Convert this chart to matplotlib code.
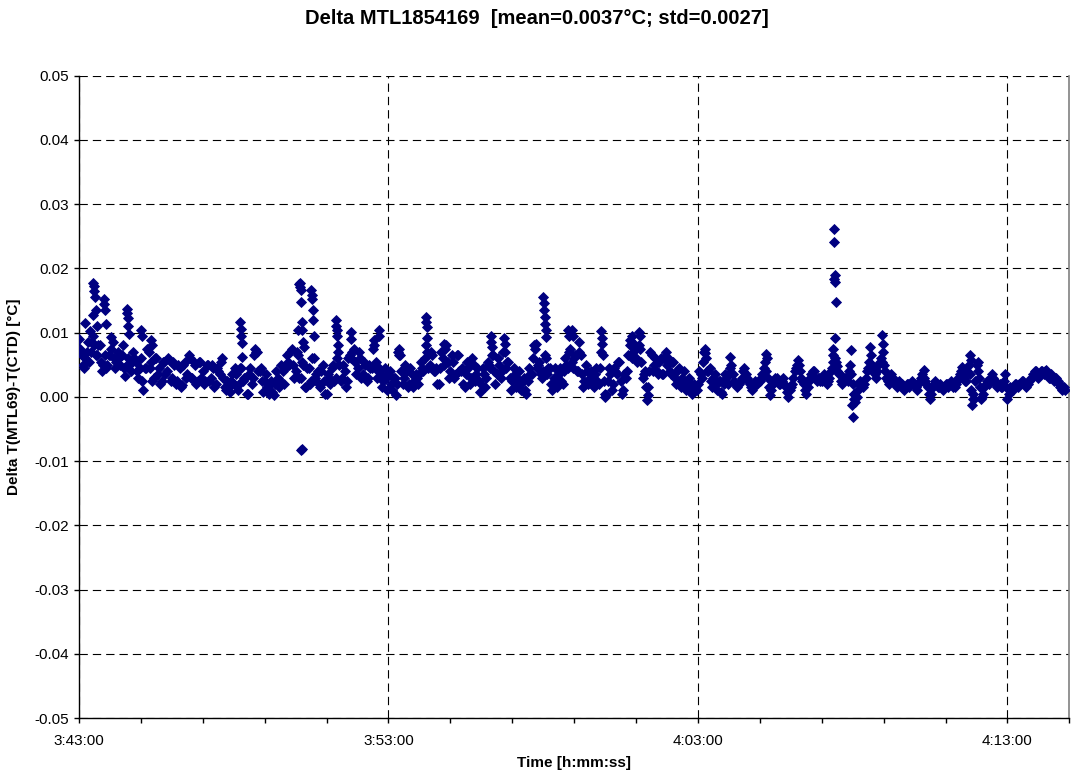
import numpy as np
import matplotlib
matplotlib.use("Agg")
from matplotlib import pyplot as plt
from matplotlib.ticker import MultipleLocator, FuncFormatter

plt.rcParams['font.family'] = ['Liberation Sans', 'DejaVu Sans']

# start of record 3:43:00; readings every 2.5 s, split in two interleaved rows
start = 3 * 3600 + 43 * 60
step = 5

# delta T in mK at 0, 5, 10 ... s (one row per minute)
base_mk = [
    9.0, 6.5, 4.5, 7.0, 5.5, 8.5, 8.0, 6.5, 8.0, 4.0, 6.5, 5.0,
    6.5, 8.5, 4.5, 7.0, 5.0, 8.0, 3.2, 6.0, 4.0, 7.0, 5.5, 3.0,
    6.0, 1.0, 4.5, 7.0, 5.5, 3.0, 6.0, 4.5, 2.5, 5.5, 4.0, 5.8,
    3.0, 5.0, 2.5, 4.5, 1.8, 5.5, 3.5, 6.0, 3.0, 5.0, 2.5, 5.5,
    4.0, 2.5, 5.0, 3.0, 4.5, 2.0, 4.0, 5.5, 3.0, 1.0, 1.5, 2.5,
    2.0, 3.5, 2.0, 4.5, 3.0, 0.5, 3.5, 2.0, 6.5, 7.0, 4.0, 2.5,
    2.5, 1.5, 2.0, 0.7, 2.0, 3.0, 2.5, 4.0, 4.5, 5.5, 7.0, 5.0,
    4.0, 6.5, 3.0, 5.0, 1.5, 4.5, 2.5, 6.0, 3.5, 2.0, 4.0, 2.5,
    0.5, 3.0, 4.5, 2.5, 6.0, 5.0, 3.0, 4.0, 2.5, 6.5, 7.0, 5.5,
    4.5, 6.0, 3.5, 5.0, 3.0, 4.5, 7.5, 5.5, 4.0, 3.5, 2.5, 3.0,
    3.5, 2.0, 3.0, 0.3, 6.5, 4.0, 3.0, 4.0, 2.0, 3.5, 2.5, 3.0,
    3.5, 4.5, 6.0, 7.0, 5.0, 6.5, 4.0, 2.0, 4.5, 6.0, 7.5, 5.5,
    4.0, 5.5, 3.5, 6.5, 4.0, 2.0, 3.5, 4.5, 3.0, 5.0, 3.5, 2.5,
    2.0, 3.5, 3.0, 5.0, 6.5, 4.0, 3.5, 5.0, 4.0, 7.0, 5.5, 3.0,
    2.5, 3.5, 3.0, 2.0, 2.5, 1.0, 2.5, 3.5, 6.0, 7.5, 5.0, 3.5,
    4.0, 6.0, 4.5, 2.0, 3.0, 2.5, 3.5, 2.5, 4.0, 5.0, 7.0, 5.5,
    6.0, 4.0, 7.0, 3.5, 2.5, 4.0, 3.0, 2.0, 3.5, 2.5, 4.5, 6.5,
    0.5, 2.5, 3.5, 2.0, 4.0, 5.5, 2.5, 1.0, 3.0, 6.5, 8.0, 7.0,
    6.0, 8.0, 5.5, 3.5, 1.5, 4.0, 6.5, 5.0, 4.0, 5.5, 3.5, 6.0,
    5.0, 4.0, 5.5, 3.0, 4.0, 2.5, 3.0, 2.0, 2.5, 1.5, 0.8, 1.5,
    2.0, 3.5, 5.5, 6.0, 4.0, 2.5, 3.0, 2.0, 2.5, 0.7, 2.0, 3.0,
    3.5, 5.0, 2.5, 1.5, 2.0, 3.0, 4.5, 3.0, 2.0, 1.0, 2.5, 2.0,
    2.5, 3.5, 5.5, 3.0, 0.3, 2.0, 3.0, 2.5, 2.0, 3.0, 1.5, 0.0,
    1.5, 3.0, 4.5, 5.0, 3.0, 2.0, 0.5, 2.5, 3.5, 4.0, 2.5, 3.0,
    2.5, 3.5, 2.0, 3.0, 4.5, 6.0, 4.0, 3.5, 2.0, 3.0, 2.5, 5.0,
    2.0, -0.8, 1.0, 2.5, 1.5, 3.0, 4.5, 6.5, 4.0, 3.0, 5.0, 6.0,
    5.0, 3.0, 2.0, 3.5, 2.5, 1.5, 2.5, 2.0, 1.0, 2.0, 1.5, 2.5,
    2.0, 1.0, 2.5, 3.5, 2.5, 1.5, -0.3, 1.5, 2.5, 1.5, 2.0, 1.0,
    2.0, 1.5, 2.5, 1.5, 2.0, 3.0, 4.0, 3.0, 2.5, 5.0, 1.0, -0.3,
    5.0, 3.0, 0.0, 1.5, 2.5, 2.0, 3.5, 2.5, 1.5, 2.0, 1.5, 3.5,
    -0.3, 1.5, 1.0, 2.0, 1.5, 2.0, 2.5, 1.5, 2.0, 3.0, 3.5, 4.0,
    3.0, 4.0, 3.5, 4.2, 3.0, 3.5, 2.5, 3.0, 2.0, 1.0, 1.5,
]

# delta T in mK at 2.5, 7.5, 12.5 ... s
mid_mk = [
    7.5, 5.0, 6.0, 8.5, 7.0, 9.5, 6.5, 8.0, 5.5, 5.0, 4.5, 6.5,
    7.5, 6.0, 5.5, 6.0, 6.5, 4.5, 5.0, 5.0, 5.5, 6.0, 4.0, 4.5,
    2.5, 4.5, 7.5, 4.5, 2.5, 6.0, 3.5, 2.0, 5.5, 3.5, 6.0, 2.5,
    5.5, 2.0, 5.0, 1.5, 5.0, 3.0, 6.5, 3.0, 5.5, 2.0, 5.5, 3.0,
    2.0, 5.0, 2.5, 5.0, 1.5, 4.5, 3.5, 6.0, 1.5, 2.5, 0.8, 3.5,
    4.5, 1.0, 4.5, 2.5, 3.0, 0.5, 4.5, 3.0, 7.0, 4.0, 4.5, 0.8,
    3.5, 0.5, 2.5, 0.3, 4.0, 1.5, 5.0, 2.0, 6.5, 5.0, 7.5, 3.0,
    7.0, 3.0, 5.5, 1.5, 4.5, 2.0, 6.0, 3.0, 4.0, 1.5, 5.0, 0.5,
    3.5, 2.0, 5.0, 3.0, 7.0, 2.5, 5.0, 1.5, 6.0, 6.0, 7.5, 3.5,
    7.0, 3.0, 5.5, 2.5, 5.0, 4.5, 8.0, 3.0, 4.5, 1.5, 4.5, 1.0,
    4.0, 1.0, 3.0, 2.0, 6.5, 2.0, 5.0, 1.5, 4.5, 1.5, 3.5, 2.0,
    5.5, 4.0, 8.0, 4.5, 7.0, 4.0, 4.5, 2.0, 7.0, 5.0, 8.0, 3.0,
    6.5, 3.0, 6.5, 4.0, 4.5, 1.5, 5.5, 2.0, 6.0, 2.5, 4.5, 0.8,
    4.5, 1.5, 5.5, 4.5, 6.5, 2.0, 6.0, 3.0, 7.0, 4.5, 5.5, 1.0,
    4.5, 1.5, 4.0, 1.0, 3.0, 0.5, 4.5, 3.5, 8.0, 4.5, 5.5, 3.0,
    6.5, 3.5, 4.5, 1.0, 4.5, 1.5, 4.5, 2.0, 6.0, 4.5, 7.5, 4.5,
    6.5, 4.0, 6.5, 1.5, 5.0, 2.0, 4.0, 1.5, 4.5, 2.0, 7.0, 2.5,
    0.3, 4.5, 1.0, 4.5, 3.5, 5.5, 0.5, 3.5, 4.0, 8.0, 6.0, 8.0,
    5.5, 7.5, 3.0, 4.0, 1.5, 7.0, 4.0, 6.0, 3.5, 6.0, 3.5, 7.0,
    6.0, 3.5, 5.5, 2.0, 4.5, 1.5, 4.0, 1.0, 3.0, 0.5, 2.0, 1.0,
    4.0, 3.0, 7.0, 4.0, 4.5, 1.5, 3.5, 1.0, 2.5, 0.5, 3.5, 2.0,
    4.5, 3.5, 2.0, 2.0, 2.5, 4.0, 3.5, 2.5, 1.5, 2.0, 2.0, 2.5,
    3.0, 4.5, 4.0, 1.5, 1.0, 2.5, 3.0, 2.0, 2.5, 2.0, 0.8, 1.0,
    2.0, 4.0, 5.0, 4.0, 2.5, 1.0, 1.5, 3.0, 4.0, 3.0, 3.0, 2.5,
    3.0, 3.0, 2.5, 4.0, 5.5, 5.0, 3.5, 2.5, 2.5, 3.0, 4.0, 3.5,
    0.5, 0.0, 2.0, 2.0, 2.0, 4.0, 5.5, 5.0, 3.5, 4.0, 5.5, 5.5,
    4.0, 2.5, 3.0, 3.0, 2.0, 2.0, 2.0, 1.5, 1.5, 2.0, 2.0, 2.0,
    1.5, 2.0, 3.0, 3.0, 2.0, 0.5, 0.5, 2.0, 2.0, 1.5, 1.5, 1.5,
    2.0, 2.0, 2.0, 1.5, 2.5, 3.5, 3.5, 2.5, 4.0, 3.5, 0.5, 2.5,
    4.0, 1.5, 0.5, 2.0, 2.5, 3.0, 3.0, 2.0, 2.0, 1.5, 2.5, 1.5,
    0.5, 1.0, 1.5, 2.0, 2.0, 2.5, 2.0, 2.0, 2.5, 3.0, 4.0, 3.5,
    3.5, 4.0, 4.0, 3.5, 3.0, 3.0, 3.0, 2.5, 1.5, 1.5, 1.0,
]

# short excursions (seconds after 3:43:00, mK)
spike_s = [12, 22, 27, 28, 29, 30, 31, 33, 35, 48, 49, 50, 52, 63,
           93, 94, 95, 96, 97, 121, 122, 139, 141,
           313, 314, 315, 316, 317, 342,
           424, 426, 428, 429, 430, 431, 431, 432, 432, 433, 434, 437,
           450, 451, 452, 453, 454, 455,
           498, 499, 500, 501, 502, 527, 528, 572, 581, 582, 619, 621,
           672, 673, 674, 675, 708, 798, 799, 800, 824, 826, 886,
           900, 901, 902, 903, 904, 905, 906, 949, 950, 956, 957, 969,
           1012, 1013, 1014, 1020, 1068, 1072, 1086, 1087, 1101, 1103,
           1213, 1214, 1262, 1331, 1333, 1393,
           1461, 1462, 1463, 1464, 1464, 1465, 1465, 1466, 1467, 1468, 1470,
           1497, 1499, 1501, 1502, 1503, 1534, 1557, 1558, 1559,
           1638, 1712, 1727, 1729, 1731, 1733, 1743, 1749]
spike_mk = [11.5, 10.3, 12.8, 17.7, 17.2, 16.5, 15.5, 13.5, 11.0, 15.3, 14.5, 13.5, 11.3, 9.3,
            13.7, 13.0, 12.2, 11.0, 9.8, 10.4, 9.5, 8.8, 8.0,
            11.7, 10.5, 9.4, 8.4, 6.2, 7.4,
            10.4, 17.6, 17.7, 17.1, 16.6, 14.8, -8.3, 11.7, -8.1, 10.4, 8.6, 7.8,
            16.6, 15.9, 15.3, 13.5, 12.0, 9.4,
            12.0, 11.0, 10.4, 9.4, 8.0, 10.1, 9.0, 8.8, 10.4, 9.5, 7.0, 7.5,
            12.5, 11.7, 10.9, 9.1, 8.3, 9.4, 8.6, 7.8, 9.1, 8.2, 8.3,
            15.6, 14.6, 13.6, 12.5, 11.4, 10.4, 9.3, 10.4, 9.4, 10.4, 9.5, 8.6,
            10.2, 9.2, 8.2, 0.0, 8.8, 9.5, 10.1, 9.4, -0.5, 0.3,
            6.8, 7.5, 6.2, 6.7, 6.0, 5.7,
            6.5, 7.5, 26.2, 24.1, 18.4, 18.9, 9.1, 17.9, 14.8, 5.4, 4.8,
            7.3, -1.3, -3.2, -0.3, 0.5, 7.8, 9.6, 8.3, 7.0,
            4.2, 4.7, 6.5, 5.8, -1.3, -0.3, 5.5, -0.3]

t = np.concatenate([np.arange(len(base_mk)) * step,
                    np.arange(len(mid_mk)) * step + step / 2,
                    spike_s])
dT = np.concatenate([base_mk, mid_mk, spike_mk]) / 1000.0


def hms(x, pos=None):
    x = int(round(x)) + start
    return f"{x // 3600}:{(x % 3600) // 60:02d}:{x % 60:02d}"


fig = plt.figure(figsize=(10.73, 7.78), dpi=100)
ax = fig.add_axes([0.0736, 0.0771, 0.923, 0.8256])

ax.plot(t, dT, 'D', ms=5.0, color='#000080', mec='#000080', mew=0.6, ls='none', zorder=3)

ax.set_xlim(0, 32 * 60)
ax.set_ylim(-0.05, 0.05)
ax.xaxis.set_major_locator(MultipleLocator(600))
ax.xaxis.set_minor_locator(MultipleLocator(120))
ax.xaxis.set_major_formatter(FuncFormatter(hms))
ax.yaxis.set_major_locator(MultipleLocator(0.01))
ax.yaxis.set_major_formatter(FuncFormatter(lambda y, p: f"{round(y, 2) + 0:.2f}"))

ax.grid(True, which='major', color='black', ls=(0, (7.5, 4.5)), lw=0.8, zorder=1)
ax.set_axisbelow(True)

ax.spines['top'].set_visible(False)
ax.spines['right'].set_color('#808080')
ax.spines['right'].set_linewidth(1.2)
for s in ('left', 'bottom'):
    ax.spines[s].set_linewidth(1.0)
    ax.spines[s].set_color('black')

ax.tick_params(axis='both', which='both', direction='out', length=3.5, width=1,
               labelsize=11, colors='black')
ax.tick_params(axis='x', which='major', pad=8)
ax.tick_params(axis='y', pad=4)

ax.set_xlabel('Time [h:mm:ss]', fontsize=11, fontweight='bold', labelpad=6)
ax.set_ylabel('Delta T(MTL69)-T(CTD) [°C]', fontsize=11, fontweight='bold', labelpad=9)
fig.text(0.5, 0.976, 'Delta MTL1854169  [mean=0.0037°C; std=0.0027]',
         ha='center', va='center', fontsize=14.5, fontweight='bold')

fig.savefig('out.png', dpi=100)
